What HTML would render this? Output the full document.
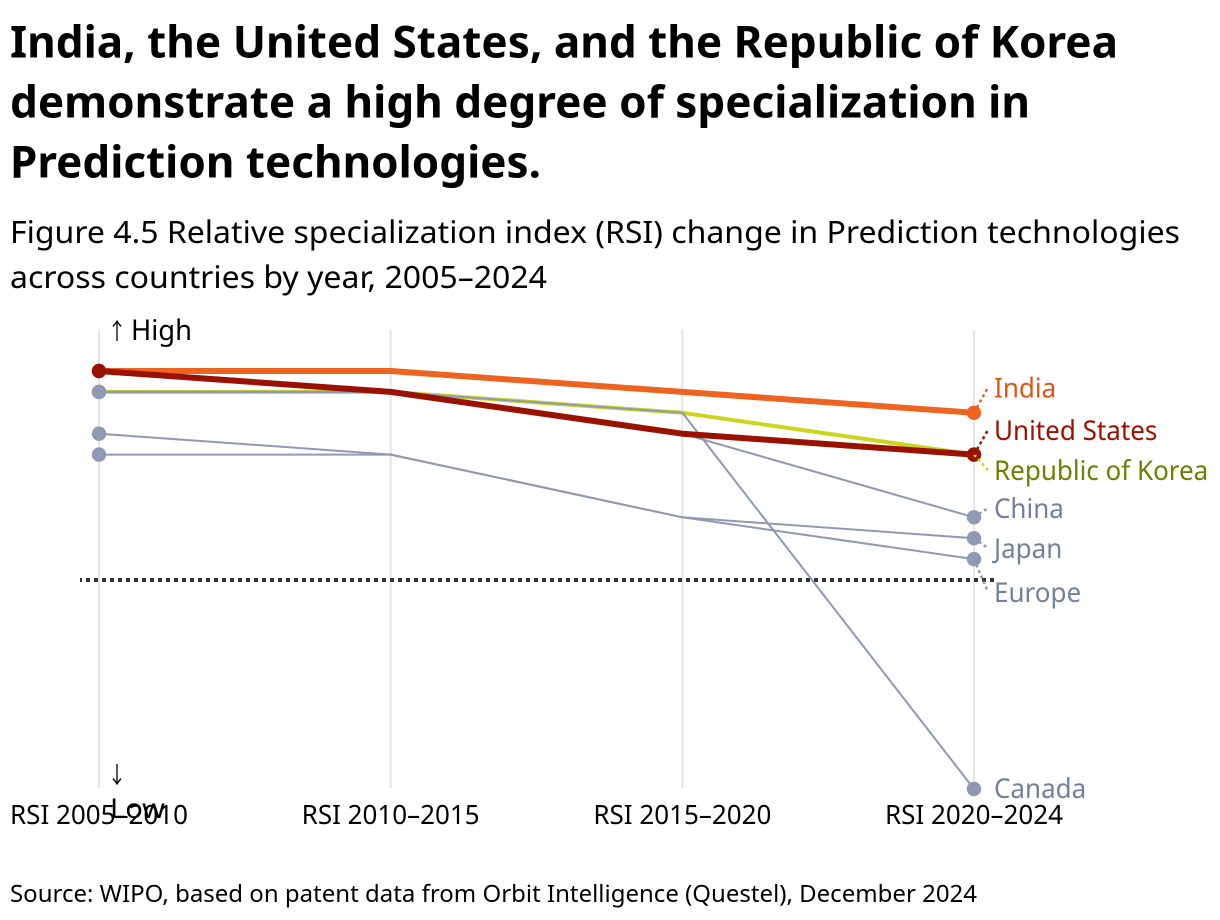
<!DOCTYPE html>
<html lang="en">
<head>
<meta charset="utf-8">
<title>Relative specialization index in Prediction technologies</title>
<style>
html,body{margin:0;padding:0;background:#fff;width:1220px;height:920px;overflow:hidden}
svg{display:block;font-family:"Noto Sans","Noto Sans CJK SC","Liberation Sans",sans-serif}
</style>
</head>
<body>
<svg id="chart" xmlns="http://www.w3.org/2000/svg" width="1220" height="920" viewBox="0 0 1220 920">
  <g>
    <text x="10" y="57.5" font-size="44" font-weight="700" fill="#000" textLength="1108" lengthAdjust="spacingAndGlyphs">India, the United States, and the Republic of Korea</text>
    <text x="10" y="117.5" font-size="44" font-weight="700" fill="#000" textLength="1020" lengthAdjust="spacingAndGlyphs">demonstrate a high degree of specialization in</text>
    <text x="10" y="177.5" font-size="44" font-weight="700" fill="#000" textLength="531" lengthAdjust="spacingAndGlyphs">Prediction technologies.</text>
    <text x="10" y="243" font-size="31" fill="#000" textLength="1170" lengthAdjust="spacingAndGlyphs">Figure 4.5 Relative specialization index (RSI) change in Prediction technologies</text>
    <text x="10" y="288" font-size="31" fill="#000" textLength="537" lengthAdjust="spacingAndGlyphs">across countries by year, 2005–2024</text>
  </g>
  <g id="grid"></g>
  <g id="baseline"></g>
  <g id="series"></g>
  <g id="dots"></g>
  <g id="leaders"></g>
  <g id="labels"></g>
  <g>
    <text x="107.5" y="339" font-size="23" fill="#000" textLength="19" lengthAdjust="spacingAndGlyphs">↑</text>
    <text x="131" y="340" font-size="28" fill="#000" textLength="61" lengthAdjust="spacingAndGlyphs">High</text>
    <text x="107.5" y="783" font-size="23" fill="#000" textLength="19" lengthAdjust="spacingAndGlyphs">↓</text>
    <text x="110" y="818" font-size="27" fill="#000" textLength="55" lengthAdjust="spacingAndGlyphs">Low</text>
  </g>
  <g id="ticks"></g>
  <text x="10" y="902" font-size="24" fill="#000" textLength="967" lengthAdjust="spacingAndGlyphs">Source: WIPO, based on patent data from Orbit Intelligence (Questel), December 2024</text>
</svg>
<script>
const periods = ["RSI 2005–2010", "RSI 2010–2015", "RSI 2015–2020", "RSI 2020–2024"];

const india = [1.0, 1.0, 0.9, 0.8];
const unitedStates = [1.0, 0.9, 0.7, 0.6];
const republicOfKorea = [0.9, 0.9, 0.8, 0.6];
const china = [0.9, 0.9, 0.7, 0.3];
const japan = [0.7, 0.6, 0.3, 0.2];
const europe = [0.6, 0.6, 0.3, 0.1];
const canada = [0.9, 0.9, 0.8, -1.0];

const seriesNames = ["Republic of Korea", "China", "Japan", "Europe", "Canada", "India", "United States"];
const seriesValues = [republicOfKorea, china, japan, europe, canada, india, unitedStates];
const labelAnchors = [0.526, 0.344, 0.153, -0.058, -0.995, 0.922, 0.718];
const labelText = ["Republic of Korea", "China", "Japan", "Europe", "Canada", "India", "United States"];

const NS = "http://www.w3.org/2000/svg";
const xAxis = i => 99 + i * (974 - 99) / (periods.length - 1);
const yAxis = v => 580 - 209 * v;

const styleFor = name => {
  if (name === "India") return { line: "#ec6420", text: "#dd5510", width: 6 };
  if (name === "United States") return { line: "#991100", text: "#991100", width: 6 };
  if (name === "Republic of Korea") return { line: "#cbd51f", text: "#6f7f00", width: 4 };
  return { line: "#8f99b3", text: "#737f9f", width: 2 };
};
const slug = s => s.toLowerCase().replace(/[^a-z0-9]+/g, "-");
const make = (parent, tag, attrs) => {
  const el = document.createElementNS(NS, tag);
  for (const k in attrs) el.setAttribute(k, attrs[k]);
  parent.appendChild(el);
  return el;
};

const gridG = document.getElementById("grid");
const tickG = document.getElementById("ticks");
periods.forEach((p, i) => {
  const g = make(gridG, "line", { x1: xAxis(i), x2: xAxis(i), y1: 330, y2: 788, stroke: "#e5e5e5", "stroke-width": 2 });
  
  
  const t = make(tickG, "text", { x: xAxis(i), y: 824, "font-size": 26, "text-anchor": "middle", fill: "#000", textLength: 178, lengthAdjust: "spacingAndGlyphs" });
  
  
  t.textContent = p;
});

const base = make(document.getElementById("baseline"), "line", { x1: 80, x2: 995, y1: yAxis(0), y2: yAxis(0), stroke: "#333", "stroke-width": 4, "stroke-dasharray": "4 4", "stroke-dashoffset": 2 });



const seriesG = document.getElementById("series");
const dotsG = document.getElementById("dots");
const leadersG = document.getElementById("leaders");
const labelsG = document.getElementById("labels");
const lastIndex = periods.length - 1;

seriesNames.forEach((name, s) => {
  const vals = seriesValues[s];
  const st = styleFor(name);
  const pts = vals.map((v, i) => xAxis(i) + "," + yAxis(v)).join(" ");
  const line = make(seriesG, "polyline", { points: pts, fill: "none", stroke: st.line, "stroke-width": st.width, "stroke-linejoin": "round" });
  
  
  [0, lastIndex].forEach(i => {
    const d = make(dotsG, "circle", { cx: xAxis(i), cy: yAxis(vals[i]), r: 7.2, fill: st.line });
    
    
  });
  const endY = yAxis(vals[lastIndex]);
  const anchorY = yAxis(labelAnchors[s]);
  if (Math.abs(anchorY - endY) > 2) {
    const l = make(leadersG, "line", { x1: xAxis(lastIndex), y1: endY, x2: xAxis(lastIndex) + 14, y2: anchorY, stroke: st.line, "stroke-width": 2.5, "stroke-dasharray": "3 3" });
    
    
  }
  const t = make(labelsG, "text", { x: xAxis(lastIndex) + 20, y: anchorY + 10, "font-size": 27, fill: st.text });
  
  
  t.textContent = labelText[s];
  t.setAttribute('textLength', t.getComputedTextLength() * 0.963);
  t.setAttribute('lengthAdjust', 'spacingAndGlyphs');
});
</script>
</body>
</html>
